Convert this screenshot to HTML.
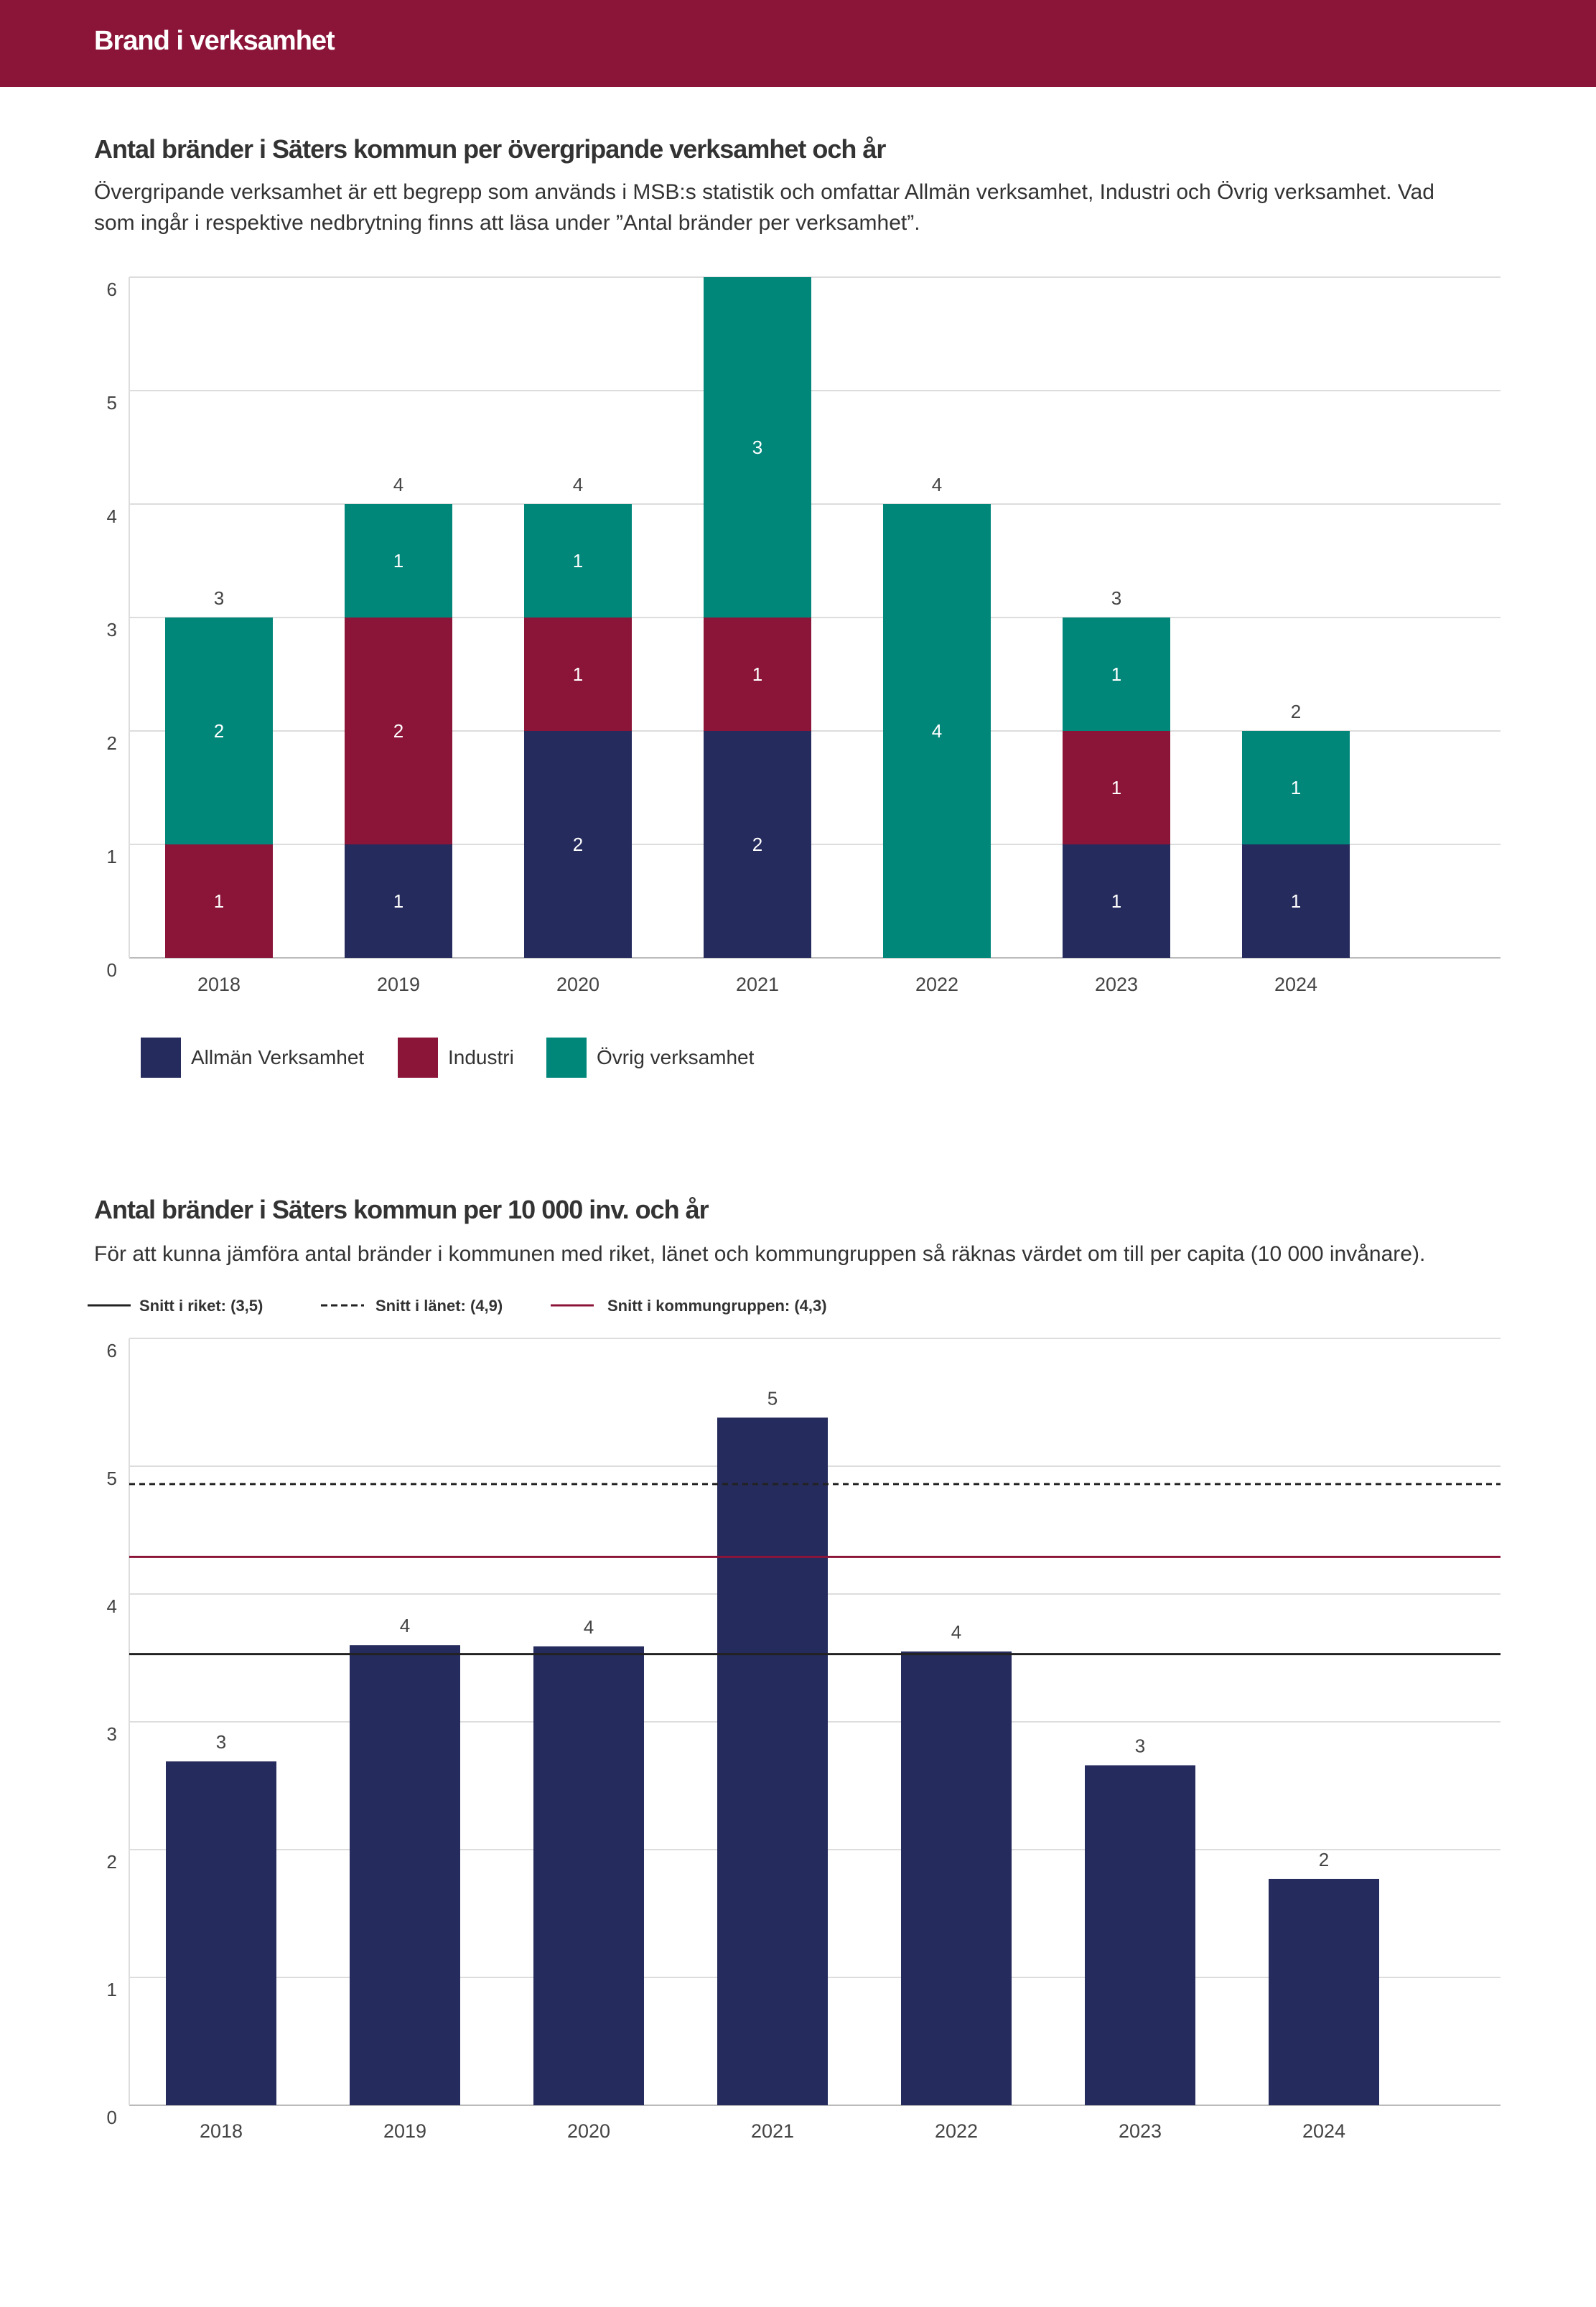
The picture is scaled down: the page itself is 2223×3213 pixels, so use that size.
<!DOCTYPE html>
<html><head><meta charset="utf-8"><style>
body{margin:0;width:2223px;height:3213px;background:#fff;font-family:"Liberation Sans",sans-serif;position:relative;overflow:hidden}
.hdr{position:absolute;left:0;top:0;width:2223px;height:121px;background:#8B1539}
.hdr span{position:absolute;left:131px;top:36px;color:#fff;font-size:38px;font-weight:bold;letter-spacing:-1px}
.t{position:absolute;left:131px;color:#333;font-size:36px;font-weight:bold;letter-spacing:-1px}
.d{position:absolute;left:131px;color:#333;font-size:30px;line-height:43px;width:1930px}
svg{position:absolute;left:0}
</style></head><body>
<div class="hdr"><span>Brand i verksamhet</span></div>
<div class="t" style="top:187px">Antal bränder i Säters kommun per övergripande verksamhet och år</div>
<div class="d" style="top:246px">Övergripande verksamhet är ett begrepp som används i MSB:s statistik och omfattar Allmän verksamhet, Industri och Övrig verksamhet. Vad som ingår i respektive nedbrytning finns att läsa under ”Antal bränder per verksamhet”.</div>
<svg id="c1" width="2223" height="1560" style="top:0"></svg>
<div class="t" style="top:1664px">Antal bränder i Säters kommun per 10 000 inv. och år</div>
<div class="d" style="top:1725px;width:2100px">För att kunna jämföra antal bränder i kommunen med riket, länet och kommungruppen så räknas värdet om till per capita (10 000 invånare).</div>
<svg id="c2" width="2223" height="1400" style="top:1780px"></svg>
<script>
const years=["2018","2019","2020","2021","2022","2023","2024"];
const allman=[0,1,2,2,0,1,1];
const industri=[1,2,1,1,0,1,0];
const ovrig=[2,1,1,3,4,1,1];
const yTicks=[0,1,2,3,4,5,6];
const perCap=[2.69,3.6,3.59,5.38,3.55,2.66,1.77];
const perCapLabels=["3","4","4","5","4","3","2"];
const refNames=["Snitt i riket: (3,5)","Snitt i länet: (4,9)","Snitt i kommungruppen: (4,3)"];
const refValues=[3.53,4.86,4.29];
const NS="http://www.w3.org/2000/svg";
function mk(p,t,a,txt){const e=document.createElementNS(NS,t);for(const k in a)e.setAttribute(k,a[k]);if(txt!==undefined)e.textContent=txt;p.appendChild(e);return e;}
const C=["#252B5C","#8B1539","#00877A"];
(function(){
const s=document.getElementById('c1');
const y0=1334,pu=158,L=180,R=2090;
const Y=v=>y0-v*pu, X=i=>305+i*250;
yTicks.forEach(v=>{
 const g=mk(s,'line',{x1:L,x2:R,y1:Y(v),y2:Y(v),stroke:v?'#ddd':'#bbb','stroke-width':2});
 
 const t=mk(s,'text',{x:163,y:Y(v)+26,'text-anchor':'end','font-size':26,fill:'#444'},v);
 
});
mk(s,'line',{x1:L,x2:L,y1:Y(6),y2:y0,stroke:'#ddd','stroke-width':2});
const series=[allman,industri,ovrig],names=['allman','industri','ovrig'];
years.forEach((yr,i)=>{
 let acc=0;
 series.forEach((ser,k)=>{
  const v=ser[i]; if(!v)return;
  const r=mk(s,'rect',{x:X(i)-75,y:Y(acc+v),width:150,height:v*pu,fill:C[k]});
  
  const t=mk(s,'text',{x:X(i),y:Y(acc+v/2)+9,'text-anchor':'middle','font-size':26,fill:'#fff'},v);
  
  acc+=v;
 });
 if(Y(acc)-18>Y(6)){
 const tt=mk(s,'text',{x:X(i),y:Y(acc)-18,'text-anchor':'middle','font-size':26,fill:'#444'},acc);
 
 }
 const xl=mk(s,'text',{x:X(i),y:1380,'text-anchor':'middle','font-size':27,fill:'#444'},yr);
 
});
const lg=[[196,266,'Allmän Verksamhet'],[554,624,'Industri'],[761,831,'Övrig verksamhet']];
lg.forEach((l,k)=>{
 const r=mk(s,'rect',{x:l[0],y:1445,width:56,height:56,fill:C[k]});
 
 const t=mk(s,'text',{x:l[1],y:1482,'font-size':28,fill:'#333'},l[2]);
 
});
})();
(function(){
const s=document.getElementById('c2');const off=1780;
const y0=2932-off,pu=178,L=180,R=2090;
const Y=v=>y0-v*pu, X=i=>308+i*256;
yTicks.forEach(v=>{
 const g=mk(s,'line',{x1:L,x2:R,y1:Y(v),y2:Y(v),stroke:v?'#ddd':'#bbb','stroke-width':2});
 
 const t=mk(s,'text',{x:163,y:Y(v)+26,'text-anchor':'end','font-size':26,fill:'#444'},v);
 
});
mk(s,'line',{x1:L,x2:L,y1:Y(6),y2:y0,stroke:'#ddd','stroke-width':2});
years.forEach((yr,i)=>{
 const r=mk(s,'rect',{x:X(i)-77,y:Y(perCap[i]),width:154,height:perCap[i]*pu,fill:C[0]});
 
 const t=mk(s,'text',{x:X(i),y:Y(perCap[i])-18,'text-anchor':'middle','font-size':26,fill:'#444'},perCapLabels[i]);
 
 const xl=mk(s,'text',{x:X(i),y:2977-off,'text-anchor':'middle','font-size':27,fill:'#444'},yr);
 
});
const sty=[['#222',''],['#222','8,6'],['#8B1539','']];
const lx=[[122,194],[447,523],[767,846]];
refValues.forEach((v,k)=>{
 const a={x1:L,x2:R,y1:Y(v),y2:Y(v),stroke:sty[k][0],'stroke-width':3};if(sty[k][1])a['stroke-dasharray']=sty[k][1];
 const l=mk(s,'line',a);
 const b={x1:lx[k][0],x2:lx[k][0]+60,y1:38,y2:38,stroke:sty[k][0],'stroke-width':3};if(sty[k][1])b['stroke-dasharray']='9,5';
 const m=mk(s,'line',b);
 const t=mk(s,'text',{x:lx[k][1],y:46,'font-size':22,'font-weight':'bold',fill:'#333'},refNames[k]);
 
});
})();
</script>
</body></html>
